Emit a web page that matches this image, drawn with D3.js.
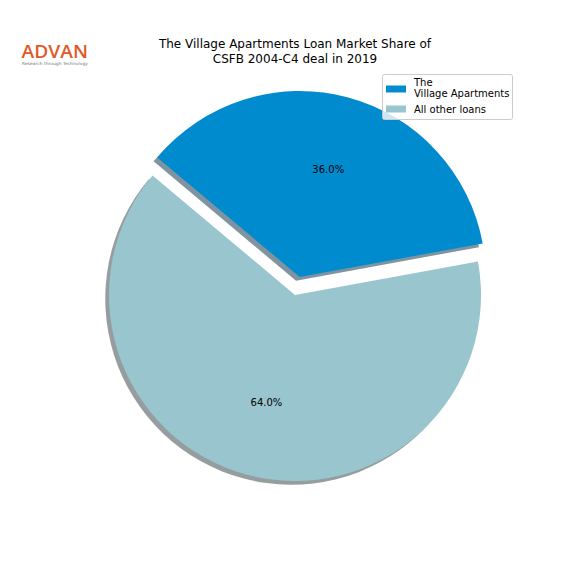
<!DOCTYPE html>
<html><head><meta charset="utf-8">
<script src="https://cdn.jsdelivr.net/npm/d3@7"></script>
<style>body{margin:0;background:#fff}svg{display:block}</style>
</head><body>
<script>
const categories = ["The\nVillage Apartments", "All other loans"];
const values = [36, 64];
const colors = ["#008bcf", "#99c5ce"];
const explode = [0.1, 0];
const titleLines = ["The Village Apartments Loan Market Share of", "CSFB 2004-C4 deal in 2019"];

const W = 576, H = 576;
const cx = 295, cy = 295, R = 186;
const svg = d3.select("body").append("svg").attr("width", W).attr("height", H);

const pie = d3.pie().sort(null).startAngle(-50 * Math.PI / 180).endAngle(310 * Math.PI / 180);
const arcs = pie(values);
const arc = d3.arc().innerRadius(0).outerRadius(R);
const rScale = d3.scaleLinear().domain([0, 1]).range([0, R]);

function offset(d, i) {
  const m = (d.startAngle + d.endAngle) / 2;
  const e = rScale(explode[i]);
  return [e * Math.sin(m), -e * Math.cos(m)];
}
const shadowColor = c => { const r = d3.rgb(c); return d3.rgb(r.r * 0.3, r.g * 0.3, r.b * 0.3).toString(); };
const sh = rScale(0.02);
// shadows
svg.append("g").selectAll("path").data(arcs).join("path")
  .attr("transform", (d, i) => { const o = offset(d, i); return `translate(${cx + o[0] - sh},${cy + o[1] + sh})`; })
  .attr("d", arc).attr("fill", (d, i) => shadowColor(colors[i])).attr("opacity", 0.5);
// wedges
svg.append("g").selectAll("path").data(arcs).join("path")
  .attr("transform", (d, i) => { const o = offset(d, i); return `translate(${cx + o[0]},${cy + o[1]})`; })
  .attr("d", arc).attr("fill", (d, i) => colors[i]);
// pct labels
const total = d3.sum(values);
svg.append("g").selectAll("text").data(arcs).join("text")
  .attr("x", (d, i) => { const o = offset(d, i); const m = (d.startAngle + d.endAngle) / 2; return cx + o[0] + rScale(0.6) * Math.sin(m); })
  .attr("y", (d, i) => { const o = offset(d, i); const m = (d.startAngle + d.endAngle) / 2; return cy + o[1] - rScale(0.6) * Math.cos(m); })
  .attr("text-anchor", "middle").attr("dominant-baseline", "central")
  .attr("font-family", "DejaVu Sans").attr("font-size", 10).attr("fill", "#000")
  .text(d => (d.value / total * 100).toFixed(1) + "%");

// title
svg.append("text").attr("x", 295).attr("text-anchor", "middle")
  .attr("font-family", "DejaVu Sans").attr("font-size", 12).attr("fill", "#000")
  .selectAll("tspan").data(titleLines).join("tspan")
  .attr("x", 295).attr("y", (d, i) => 48 + i * 14.5).text(d => d);

// legend
const lg = svg.append("g");
lg.append("rect").attr("x", 382.5).attr("y", 74.5).attr("width", 130).attr("height", 45).attr("rx", 2)
  .attr("fill", "#fff").attr("fill-opacity", 0.8).attr("stroke", "#cccccc");
const legY = [89, 109];
const legBase = [[85.5, 97], [112.5]];
categories.forEach((c, i) => {
  lg.append("rect").attr("x", 386).attr("y", legY[i] - 3.5).attr("width", 20).attr("height", 7).attr("fill", colors[i]);
  const lines = c.split("\n");
  const t = lg.append("text").attr("font-family", "DejaVu Sans").attr("font-size", 10).attr("fill", "#000");
  lines.forEach((l, j) => {
    t.append("tspan").attr("x", 414).attr("y", legBase[i][j]).text(l);
  });
});

// logo
svg.append("text").attr("x", 21.5).attr("y", 57.5).attr("font-family", "Open Sans").attr("font-weight", 600)
  .attr("font-size", 17.5).attr("fill", "#e0592a").attr("textLength", 66.5).attr("lengthAdjust", "spacingAndGlyphs").text("ADVAN");
svg.append("text").attr("x", 22).attr("y", 65).attr("font-family", "DejaVu Sans")
  .attr("font-size", 4.2).attr("fill", "#777").attr("textLength", 66).attr("lengthAdjust", "spacingAndGlyphs").text("Research through Technology");
</script>
</body></html>
